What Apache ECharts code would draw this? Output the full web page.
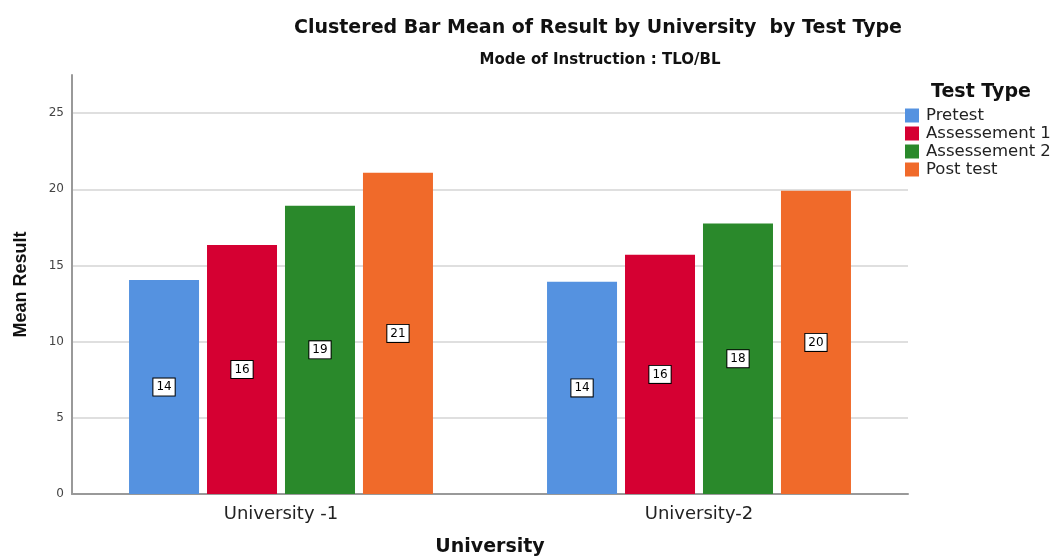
<!DOCTYPE html>
<html>
<head>
<meta charset="utf-8">
<script src="https://cdn.jsdelivr.net/npm/echarts@6/dist/echarts.min.js"></script>
<style>
	body { margin: 0; background: #fff; }
	#chart { width: 1058px; height: 557px; }
</style>
</head>
<body>
<div id="chart"></div>
<script>
	var universities = ['University -1', 'University-2'];
	var testTypes = ['Pretest', 'Assessement 1', 'Assessement 2', 'Post test'];
	var pretest = [14.04, 13.93];
	var assessment1 = [16.34, 15.70];
	var assessment2 = [18.92, 17.76];
	var postTest = [21.08, 19.90];
	var yTicks = [0, 5, 10, 15, 20, 25];

	var colors = ['#5592e0', '#d50032', '#2a892b', '#f06a2a'];
	var values = [pretest, assessment1, assessment2, postTest];
	// the reference looks stretched sideways, so a wide font fits it better
	var font = 'DejaVu Sans, Arial, sans-serif';

	var myChart = echarts.init(document.getElementById('chart'));

	var series = testTypes.map(function (name, i) {
		return {
			name: name,
			type: 'bar',
			data: values[i],
			barWidth: 70,
			barGap: '11.4%',
			itemStyle: { color: colors[i] },
			label: {
				show: true,
				position: 'inside',
				formatter: function (p) { return Math.round(p.value); },
				color: '#000',
				fontFamily: font,
				fontSize: 12,
				backgroundColor: '#fff',
				borderColor: '#000',
				borderWidth: 1,
				padding: [3, 3, 2, 3]
			}
		};
	});

	var option = {
		backgroundColor: '#fff',
		animation: false,
		title: [{
			text: 'Clustered Bar Mean of Result by University  by Test Type',
			left: 593, top: 14, textAlign: 'center',
			textStyle: { fontFamily: font, fontSize: 19, fontWeight: 'bold', color: '#111' }
		}, {
			text: 'Mode of Instruction : TLO/BL',
			left: 595, top: 48, textAlign: 'center',
			textStyle: { fontFamily: font, fontSize: 15, fontWeight: 'bold', color: '#111' }
		}, {
			text: 'Test Type',
			left: 926, top: 78,
			textStyle: { fontFamily: font, fontSize: 19, fontWeight: 'bold', color: '#111' }
		}],
		legend: {
			orient: 'vertical',
			left: 905, top: 107,
			padding: 0,
			itemWidth: 14, itemHeight: 14, itemGap: 1,
			icon: 'rect',
			textStyle: { fontFamily: font, fontSize: 16.5, color: '#222', padding: [0, 0, 0, 2] },
			data: testTypes
		},
		grid: { left: 72, right: 150, top: 75, bottom: 63, outerBoundsMode: 'none' },
		xAxis: {
			type: 'category',
			data: universities,
			name: 'University',
			nameLocation: 'middle',
			nameGap: 44,
			nameTextStyle: { fontFamily: font, fontSize: 19, fontWeight: 'bold', color: '#111' },
			axisLine: { lineStyle: { color: '#999', width: 2 } },
			axisTick: { show: false },
			axisLabel: { fontFamily: font, fontSize: 18, color: '#222', margin: 11 }
		},
		yAxis: {
			type: 'value',
			min: 0, max: 27.5, interval: 5,
			name: 'Mean Result',
			nameLocation: 'middle',
			nameGap: 42,
			nameTextStyle: { fontFamily: 'Liberation Sans, Arial, sans-serif', fontSize: 18, fontWeight: 'bold', color: '#111' },
			axisLine: { show: true, lineStyle: { color: '#999', width: 2 } },
			axisTick: { show: false },
			axisLabel: {
				fontFamily: font, fontSize: 12, color: '#444', margin: 8,
				showMaxLabel: false,
				formatter: function (v) { return yTicks.indexOf(v) >= 0 ? v : ''; }
			},
			splitLine: { show: true, showMaxLine: false, lineStyle: { color: '#d4d4d4', width: 1.5 } }
		},
		series: series
	};

	myChart.setOption(option);
</script>
</body>
</html>
